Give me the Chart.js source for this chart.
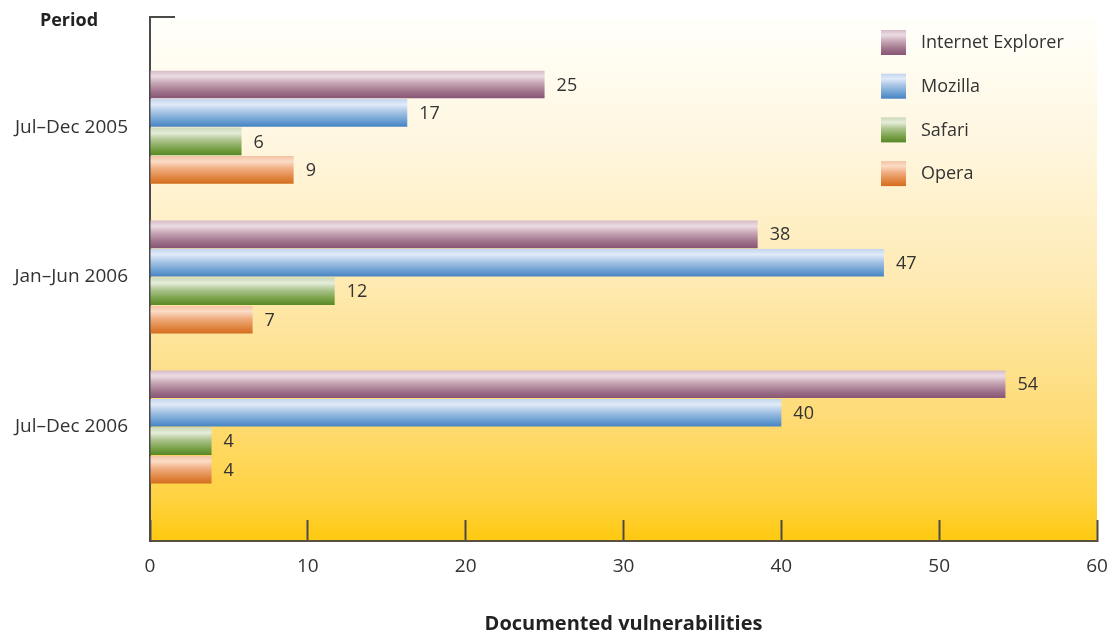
<!DOCTYPE html>
<html>
<head>
<meta charset="utf-8">
<script src="https://cdn.jsdelivr.net/npm/chart.js@4.4.1/dist/chart.umd.min.js"></script>
<style>
  html, body { margin: 0; padding: 0; background: #fff; }
  #vulnChart { display: block; }
</style>
</head>
<body>
<canvas id="vulnChart" width="1109" height="634"></canvas>
<script>
// periods on the vertical axis, top to bottom
const periods = ['Jul–Dec 2005', 'Jan–Jun 2006', 'Jul–Dec 2006'];
const xTicks = [0, 10, 20, 30, 40, 50, 60];

// bar lengths as drawn, and the numbers printed next to them
const ieValues = [25.0, 38.5, 54.2];
const mozillaValues = [16.3, 46.5, 40.0];
const safariValues = [5.8, 11.7, 3.9];
const operaValues = [9.1, 6.5, 3.9];

const ieLabels = ['25', '38', '54'];
const mozillaLabels = ['17', '47', '40'];
const safariLabels = ['6', '12', '4'];
const operaLabels = ['9', '7', '4'];

const FONT = "'Open Sans', 'DejaVu Sans', sans-serif";
const TEXT = '#333333';

// top-to-bottom shading of each bar
const palettes = {
  ie: ['#d7bac7', '#ecdce3', '#c7a6b5', '#9c6f88', '#875574'],
  mozilla: ['#c3d5ed', '#e1ebf8', '#aac6e6', '#6b9fd2', '#4683c2'],
  safari: ['#cbd8b8', '#e5edd9', '#adc48f', '#76a044', '#588726'],
  opera: ['#f3c3a2', '#fbdcc7', '#f0ae82', '#e08540', '#d46d1e'],
};

const seriesList = [
  { name: 'Internet Explorer', values: ieValues, labels: ieLabels, palette: palettes.ie },
  { name: 'Mozilla', values: mozillaValues, labels: mozillaLabels, palette: palettes.mozilla },
  { name: 'Safari', values: safariValues, labels: safariLabels, palette: palettes.safari },
  { name: 'Opera', values: operaValues, labels: operaLabels, palette: palettes.opera },
];

function barGradient(ctx, palette, top, height) {
  const g = ctx.createLinearGradient(0, top, 0, top + height);
  const stops = [0, 0.2, 0.45, 0.78, 1];
  palette.forEach((color, i) => g.addColorStop(stops[i], color));
  return g;
}

const paintPlugin = {
  id: 'paint',
  beforeDraw(chart) {
    const { ctx, chartArea: a } = chart;
    const g = ctx.createLinearGradient(0, a.top, 0, a.bottom);
    g.addColorStop(0, '#fffffb');
    g.addColorStop(0.25, '#fff6de');
    g.addColorStop(0.5, '#feeab3');
    g.addColorStop(0.75, '#fedc7a');
    g.addColorStop(0.92, '#ffd240');
    g.addColorStop(1, '#ffc90f');
    ctx.save();
    ctx.fillStyle = g;
    ctx.fillRect(a.left, a.top, a.right - a.left, a.bottom - a.top);
    ctx.restore();
  },
  beforeDatasetsDraw(chart) {
    const { ctx } = chart;
    chart.data.datasets.forEach((ds, d) => {
      chart.getDatasetMeta(d).data.forEach((bar) => {
        const top = bar.y - bar.height / 2;
        bar.options = Object.assign({}, bar.options, {
          backgroundColor: barGradient(ctx, seriesList[d].palette, top, bar.height),
        });
      });
    });
  },
  afterDatasetsDraw(chart) {
    const { ctx } = chart;
    ctx.save();
    ctx.font = `18px ${FONT}`;
    ctx.fillStyle = TEXT;
    ctx.textBaseline = 'middle';
    ctx.textAlign = 'left';
    chart.data.datasets.forEach((ds, d) => {
      chart.getDatasetMeta(d).data.forEach((bar, i) => {
        ctx.fillText(seriesList[d].labels[i], bar.x + 12, bar.y + 1);
      });
    });
    ctx.restore();
  },
  afterDraw(chart) {
    const { ctx, chartArea: a } = chart;
    ctx.save();

    // small cap at the top of the vertical axis
    ctx.strokeStyle = '#4a4a4a';
    ctx.lineWidth = 2;
    ctx.beginPath();
    ctx.moveTo(a.left, a.top);
    ctx.lineTo(a.left + 25, a.top);
    ctx.stroke();

    ctx.fillStyle = '#222';
    ctx.font = `bold 18px ${FONT}`;
    ctx.textAlign = 'center';
    ctx.textBaseline = 'middle';
    ctx.fillText('Period', 69, 21);

    // legend
    const lx = a.right - 216;
    ctx.font = `18px ${FONT}`;
    ctx.textAlign = 'left';
    seriesList.forEach((s, d) => {
      const top = 30 + d * 43.7;
      ctx.fillStyle = barGradient(ctx, s.palette, top, 25);
      ctx.fillRect(lx, top, 25, 25);
      ctx.fillStyle = TEXT;
      ctx.fillText(s.name, lx + 40, top + 13);
    });
    ctx.restore();
  },
};

const chart = new Chart(document.getElementById('vulnChart'), {
  type: 'bar',
  data: {
    datasets: seriesList.map((s) => ({
      label: s.name,
      data: s.values.map((v, i) => ({ x: v, y: i })),
      backgroundColor: s.palette[3],
      borderWidth: 0,
      categoryPercentage: 0.76,
      barPercentage: 0.97,
    })),
  },
  options: {
    indexAxis: 'y',
    responsive: false,
    animation: false,
    layout: { autoPadding: false, padding: { top: 17, right: 12, left: 0, bottom: 0 } },
    plugins: {
      legend: { display: false },
      tooltip: { enabled: false },
    },
    scales: {
      x: {
        type: 'linear',
        min: 0,
        max: 60,
        z: 1,
        afterBuildTicks: (scale) => {
          scale.ticks = xTicks.map((v) => ({ value: v }));
        },
        afterFit: (scale) => {
          scale.height = 93;
          scale.paddingLeft = 0;
          scale.paddingRight = 0;
        },
        ticks: {
          color: TEXT,
          font: { family: FONT, size: 19 },
          padding: 35,
        },
        grid: {
          display: true,
          drawOnChartArea: false,
          drawTicks: true,
          tickLength: -21,
          tickWidth: 2,
          tickColor: '#4a4a4a',
        },
        border: { display: true, color: '#5a5040', width: 2 },
        title: {
          display: true,
          text: 'Documented vulnerabilities',
          color: '#222',
          font: { family: FONT, size: 20, weight: 'bold', lineHeight: 0.8 },
          padding: { top: 0, bottom: 1.5 },
        },
      },
      y: {
        type: 'linear',
        reverse: true,
        offset: false,
        min: -0.735,
        max: 2.761,
        z: 1,
        afterBuildTicks: (scale) => {
          scale.ticks = periods.map((p, i) => ({ value: i }));
        },
        afterFit: (scale) => {
          scale.width = 150;
          scale.paddingTop = 0;
          scale.paddingBottom = 0;
        },
        ticks: {
          color: TEXT,
          font: { family: FONT, size: 19 },
          padding: 14,
          callback: (value) => periods[value],
        },
        grid: { display: false, offset: false },
        border: { display: true, color: '#4a4a4a', width: 2 },
      },
    },
  },
  plugins: [paintPlugin],
});
</script>
</body>
</html>
